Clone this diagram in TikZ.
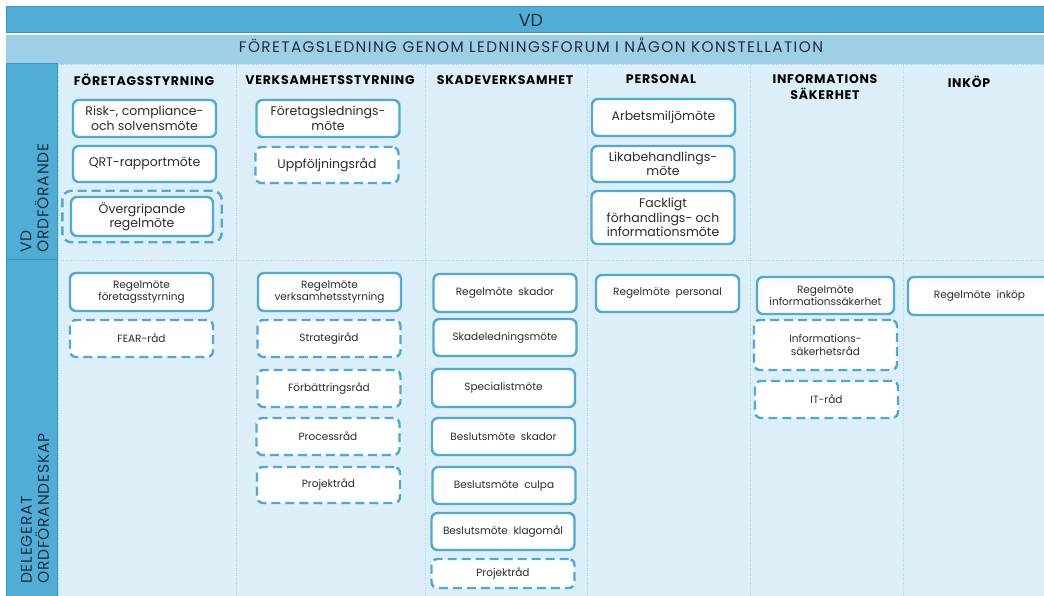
\documentclass[tikz,border=0pt]{standalone}
\usepackage{fontspec}
\setmainfont{Poppins}
\usepackage{tikz}
\usetikzlibrary{fit}
\definecolor{vdblue}{HTML}{4FADD6}
\definecolor{vdedge}{HTML}{3B96BF}
\definecolor{forumblue}{HTML}{9DD0E7}
\definecolor{bodyblue}{HTML}{DCEEF7}
\definecolor{gridblue}{HTML}{AAD4EA}
\definecolor{boxblue}{HTML}{4DAAD4}
\definecolor{inktext}{HTML}{2B2B2B}
\definecolor{bartext}{HTML}{1F2F3A}
\tikzstyle{meeting} = [rectangle, rounded corners=6pt, draw=boxblue, line width=2.4pt, fill=white, minimum width=143pt, minimum height=37pt, inner sep=1pt, align=center, text=inktext, font=\fontsize{12.5}{14.5}\selectfont]
\tikzstyle{council} = [meeting, dash pattern=on 9pt off 5pt]
\tikzstyle{lower} = [font=\fontsize{10.5}{12.5}\selectfont]
\tikzstyle{colhead} = [align=center, inner sep=0pt, text=black, font=\bfseries\fontsize{12.5}{16}\selectfont\addfontfeatures{LetterSpace=6}]
\tikzstyle{rowlabel} = [rotate=90, anchor=west, align=left, inner sep=0pt, text=bartext, font=\fontsize{15.5}{17}\selectfont\addfontfeatures{LetterSpace=5}]
\tikzstyle{gridline} = [draw=gridblue, line width=1pt, dash pattern=on 1pt off 1.5pt]

\begin{document}
\begin{tikzpicture}[x=1pt,y=-1pt]
  \useasboundingbox (0,0) rectangle (1044,596);
  % bands
  \fill[white] (0,0) rectangle (1044,596);
  \filldraw[fill=vdblue, draw=vdedge, line width=1pt] (6,7) rectangle (1060,33);
  \fill[forumblue] (6,35) rectangle (1060,64);
  \fill[bodyblue] (57,64) rectangle (1060,596);
  \filldraw[fill=vdblue, draw=vdedge, line width=1pt] (6,64) rectangle (57,259) (6,259) rectangle (57,600);
  \node[text=bartext, font=\fontsize{17.5}{20}\selectfont] (vd) at (531,20) {VD};
  \node[text=bartext, font=\fontsize{15.3}{17}\selectfont\addfontfeatures{LetterSpace=9}] (forum) at (531,45) {FÖRETAGSLEDNING GENOM LEDNINGSFORUM I NÅGON KONSTELLATION};
  \path[gridline] (58,65) -- (1060,65) (58,260) -- (1060,260) (58,65) -- (58,596);
  \foreach \xcol in {236,425,587,750,903}
    \path[gridline] (\xcol,65) -- (\xcol,596);

  % row labels
  \node[rowlabel] (vdordf) at (34.5,253) {VD\\ORDFÖRANDE};
  \node[rowlabel] (deleg) at (35,584) {DELEGERAT\\ORDFÖRANDESKAP};

  % column headers
  \node[colhead] (h_fstyr) at (144,80) {FÖRETAGSSTYRNING};
  \node[colhead] (h_vstyr) at (330,80) {VERKSAMHETSSTYRNING};
  \node[colhead] (h_skada) at (505,80) {SKADEVERKSAMHET};
  \node[colhead] (h_pers) at (661,79) {PERSONAL};
  \node[colhead] (h_info) at (825,87) {INFORMATIONS\\SÄKERHET};
  \node[colhead] (h_inkop) at (969,82) {INKÖP};

  % VD ordförande
  \node[meeting] (risk) at (144.5,118.5) {Risk-, compliance-\\och solvensmöte};
  \node[meeting, minimum height=36pt] (qrt) at (144.5,164) {QRT-rapportmöte};
  \node[meeting, minimum width=142pt, minimum height=39pt] (overgrip) at (142,216.5) {Övergripande\\regelmöte};
  \node[council, fill=none, rounded corners=9pt, fit=(overgrip), inner xsep=7.5pt, inner ysep=5pt] (overframe) {};
  \node[meeting] (fled) at (328,118.5) {Företagslednings-\\möte};
  \node[council, minimum height=36pt] (uppfolj) at (327,165) {Uppföljningsråd};
  \node[meeting] (arbmiljo) at (663.5,117.5) {Arbetsmiljömöte};
  \node[meeting, minimum height=36pt] (likab) at (663,164) {Likabehandlings-\\möte};
  \node[meeting, minimum height=53pt] (fackl) at (663,217.5) {Fackligt\\förhandlings- och\\informationsmöte};

  % delegerat ordförandeskap
  \node[meeting, lower, minimum height=38pt] (r_fstyr) at (141.5,292) {Regelmöte\\företagsstyrning};
  \node[council, lower] (fear) at (141.5,338.5) {FEAR-råd};
  \node[meeting, lower, minimum height=38pt] (r_vstyr) at (329.5,292) {Regelmöte\\verksamhetsstyrning};
  \node[council, lower] (strategi) at (329,338.5) {Strategiråd};
  \node[council, lower] (forbatt) at (329,388.5) {Förbättringsråd};
  \node[council, lower] (process) at (328,436.5) {Processråd};
  \node[council, lower, minimum height=36pt] (projekt_v) at (328.5,485) {Projektråd};
  \node[meeting, lower, minimum height=38pt] (r_skada) at (505,293) {Regelmöte\ \ skador};
  \node[meeting, lower] (skadeled) at (505,337.5) {Skadeledningsmöte};
  \node[meeting, lower, minimum height=38pt] (special) at (503.5,388) {Specialistmöte};
  \node[meeting, lower] (b_skada) at (503.5,436.5) {Beslutsmöte\ \ skador};
  \node[meeting, lower] (b_culpa) at (504,485.5) {Beslutsmöte\ \ culpa};
  \node[meeting, lower] (b_klago) at (503,531.5) {Beslutsmöte\ \ klagomål};
  \node[council, lower, minimum height=29pt] (projekt_s) at (503,573.5) {Projektråd};
  \node[meeting, lower] (r_pers) at (667.5,293.5) {Regelmöte\ \ personal};
  \node[meeting, lower, minimum width=137pt] (r_info) at (825.5,295.5) {Regelmöte\\informationssäkerhet};
  \node[council, lower, minimum height=50pt] (infosak) at (825.5,345) {Informations-\\säkerhetsråd};
  \node[council, lower] (itrad) at (826.5,399.5) {IT-råd};
  \node[meeting, lower, minimum height=38pt] (r_inkop) at (979.5,296) {Regelmöte\ \ inköp};
\end{tikzpicture}
\end{document}
